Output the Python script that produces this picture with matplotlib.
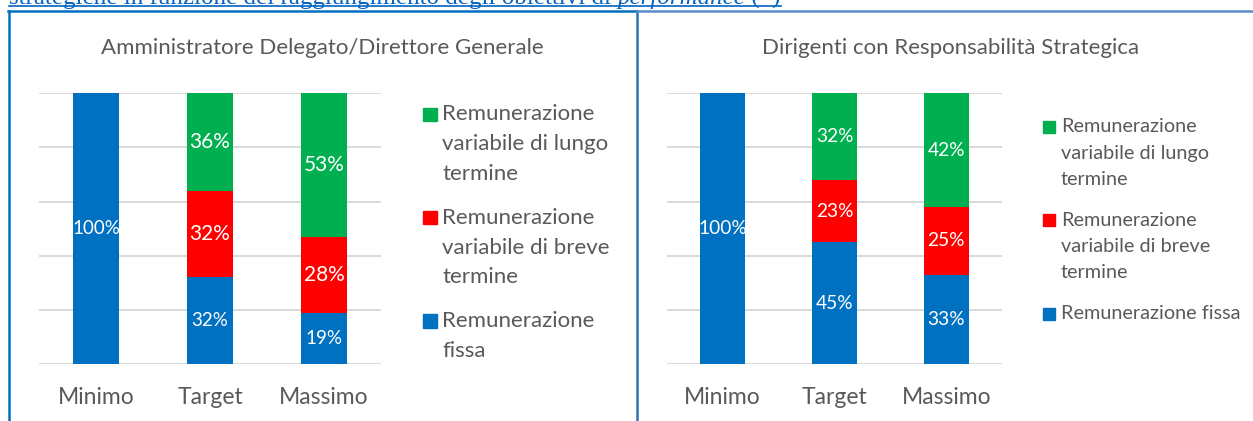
import matplotlib
matplotlib.use("Agg")
import matplotlib.pyplot as plt
from matplotlib.patches import Rectangle
from matplotlib.lines import Line2D

# ---------------- data ----------------
categories = ["Minimo", "Target", "Massimo"]
series_names = ["Remunerazione fissa",
                "Remunerazione variabile di breve termine",
                "Remunerazione variabile di lungo termine"]
ad_fissa = [100, 32, 19]
ad_breve = [0, 32, 28]
ad_lungo = [0, 36, 53]
drs_fissa = [100, 45, 33]
drs_breve = [0, 23, 25]
drs_lungo = [0, 32, 42]
title_ad = "Amministratore Delegato/Direttore Generale"
title_drs = "Dirigenti con Responsabilità Strategica"
legend_ad = ["Remunerazione\nvariabile di lungo\ntermine",
             "Remunerazione\nvariabile di breve\ntermine",
             "Remunerazione\nfissa"]
legend_drs = ["Remunerazione\nvariabile di lungo\ntermine",
              "Remunerazione\nvariabile di breve\ntermine",
              "Remunerazione fissa"]
heading_parts = ["strategiche in funzione del raggiungimento degli obiettivi di ",
                 "performance", " (*)"]

# ---------------- style ----------------
C_FIX, C_BRV, C_LNG = "#0070C0", "#FF0000", "#00B050"
GRAY = "#595959"
GRID = "#D9D9D9"
FONT = "Lato"
plt.rcParams["font.family"] = [FONT, "DejaVu Sans"]

W, H = 1253, 421
fig = plt.figure(figsize=(W / 100, H / 100), dpi=100)
fig.patch.set_facecolor("white")


def fx(x):
    return x / W


def fy(y):
    return 1 - y / H


def make_axes(x0, x1, y0, y1):
    return fig.add_axes([fx(x0), fy(y1), (x1 - x0) / W, (y1 - y0) / H])


def draw_chart(ax, fissa, breve, lungo, lab_sizes):
    x = range(len(categories))
    b1 = ax.bar(x, fissa, width=0.4, color=C_FIX, zorder=3)
    b2 = ax.bar(x, breve, width=0.4, bottom=fissa, color=C_BRV, zorder=3)
    bot = [a + b for a, b in zip(fissa, breve)]
    b3 = ax.bar(x, lungo, width=0.4, bottom=bot, color=C_LNG, zorder=3)
    for cont, vals, fs in zip([b1, b2, b3], [fissa, breve, lungo], lab_sizes):
        ax.bar_label(cont, labels=[f"{v}%" if v else "" for v in vals],
                     label_type="center", color="white", fontsize=fs, zorder=4)
    ax.set_xlim(-0.5, 2.5)
    ax.set_ylim(0, 100)
    ax.set_yticks([0, 20, 40, 60, 80, 100])
    ax.yaxis.grid(True, color=GRID, lw=1.4, zorder=0)
    ax.set_axisbelow(True)
    ax.tick_params(axis="y", length=0, labelleft=False)
    ax.set_xticks(list(x))
    ax.set_xticklabels(categories)
    ax.tick_params(axis="x", length=0, pad=16.5, labelsize=16.5, labelcolor=GRAY)
    for s in ax.spines.values():
        s.set_visible(False)
    ax.patch.set_alpha(0)


ax1 = make_axes(39, 381, 93.3, 364)
draw_chart(ax1, ad_fissa, ad_breve, ad_lungo, (13.5, 15, 15))
ax2 = make_axes(666.7, 1002.3, 93.3, 364)
draw_chart(ax2, drs_fissa, drs_breve, drs_lungo, (13.8, 13.8, 13.8))

# titles
fig.text(fx(322.3), fy(54), title_ad, ha="center", va="baseline",
         fontsize=16, color=GRAY)
fig.text(fx(950.2), fy(54), title_drs, ha="center", va="baseline",
         fontsize=16, color=GRAY)


# legends (manual, handle aligned with first line)
def draw_legend(labels, colors, mx, msize, tx, base0, item_step, line_step, fs):
    for i, (lab, col) in enumerate(zip(labels, colors)):
        base = base0 + i * item_step
        fig.patches.append(Rectangle((fx(mx), fy(base + 0.5)), msize / W, msize / H,
                                     transform=fig.transFigure, color=col,
                                     figure=fig))
        for j, line in enumerate(lab.split("\n")):
            fig.text(fx(tx), fy(base + j * line_step), line, ha="left",
                     va="baseline", fontsize=fs, color=GRAY)


draw_legend(legend_ad, [C_LNG, C_BRV, C_FIX], 423, 13.5, 442.5, 120.5, 103.3, 29.7, 16)
draw_legend(legend_drs, [C_LNG, C_BRV, C_FIX], 1043, 12, 1061, 132, 93.5, 26.5, 14.3)

# frames
BL1, BL2 = "#0070C0", "#5B8CCB"
fig.add_artist(Line2D([fx(8), fx(637)], [fy(11), fy(11)], color=BL1, lw=1.8))
fig.add_artist(Line2D([fx(9), fx(9)], [fy(11), fy(421)], color=BL1, lw=1.8))
fig.add_artist(Line2D([fx(636.7), fx(636.7)], [fy(11), fy(421)], color="#2E75B6", lw=1.8))
fig.add_artist(Line2D([fx(637), fx(1253)], [fy(11), fy(11)], color=BL2, lw=1.8))

# heading (clipped at top, underlined link style)
HC = "#0563C1"
fig.canvas.draw()
r = fig.canvas.get_renderer()
xpos = 9
styles = ["normal", "italic", "normal"]
for part, st in zip(heading_parts, styles):
    t = fig.text(fx(xpos), fy(4), part, ha="left", va="baseline",
                 fontsize=18, color=HC, family="Liberation Serif", style=st)
    bb = t.get_window_extent(renderer=r)
    xpos += bb.width
fig.add_artist(Line2D([fx(9), fx(xpos)], [fy(6), fy(6)], color=HC, lw=1.2))

fig.savefig("out.png", dpi=100)
